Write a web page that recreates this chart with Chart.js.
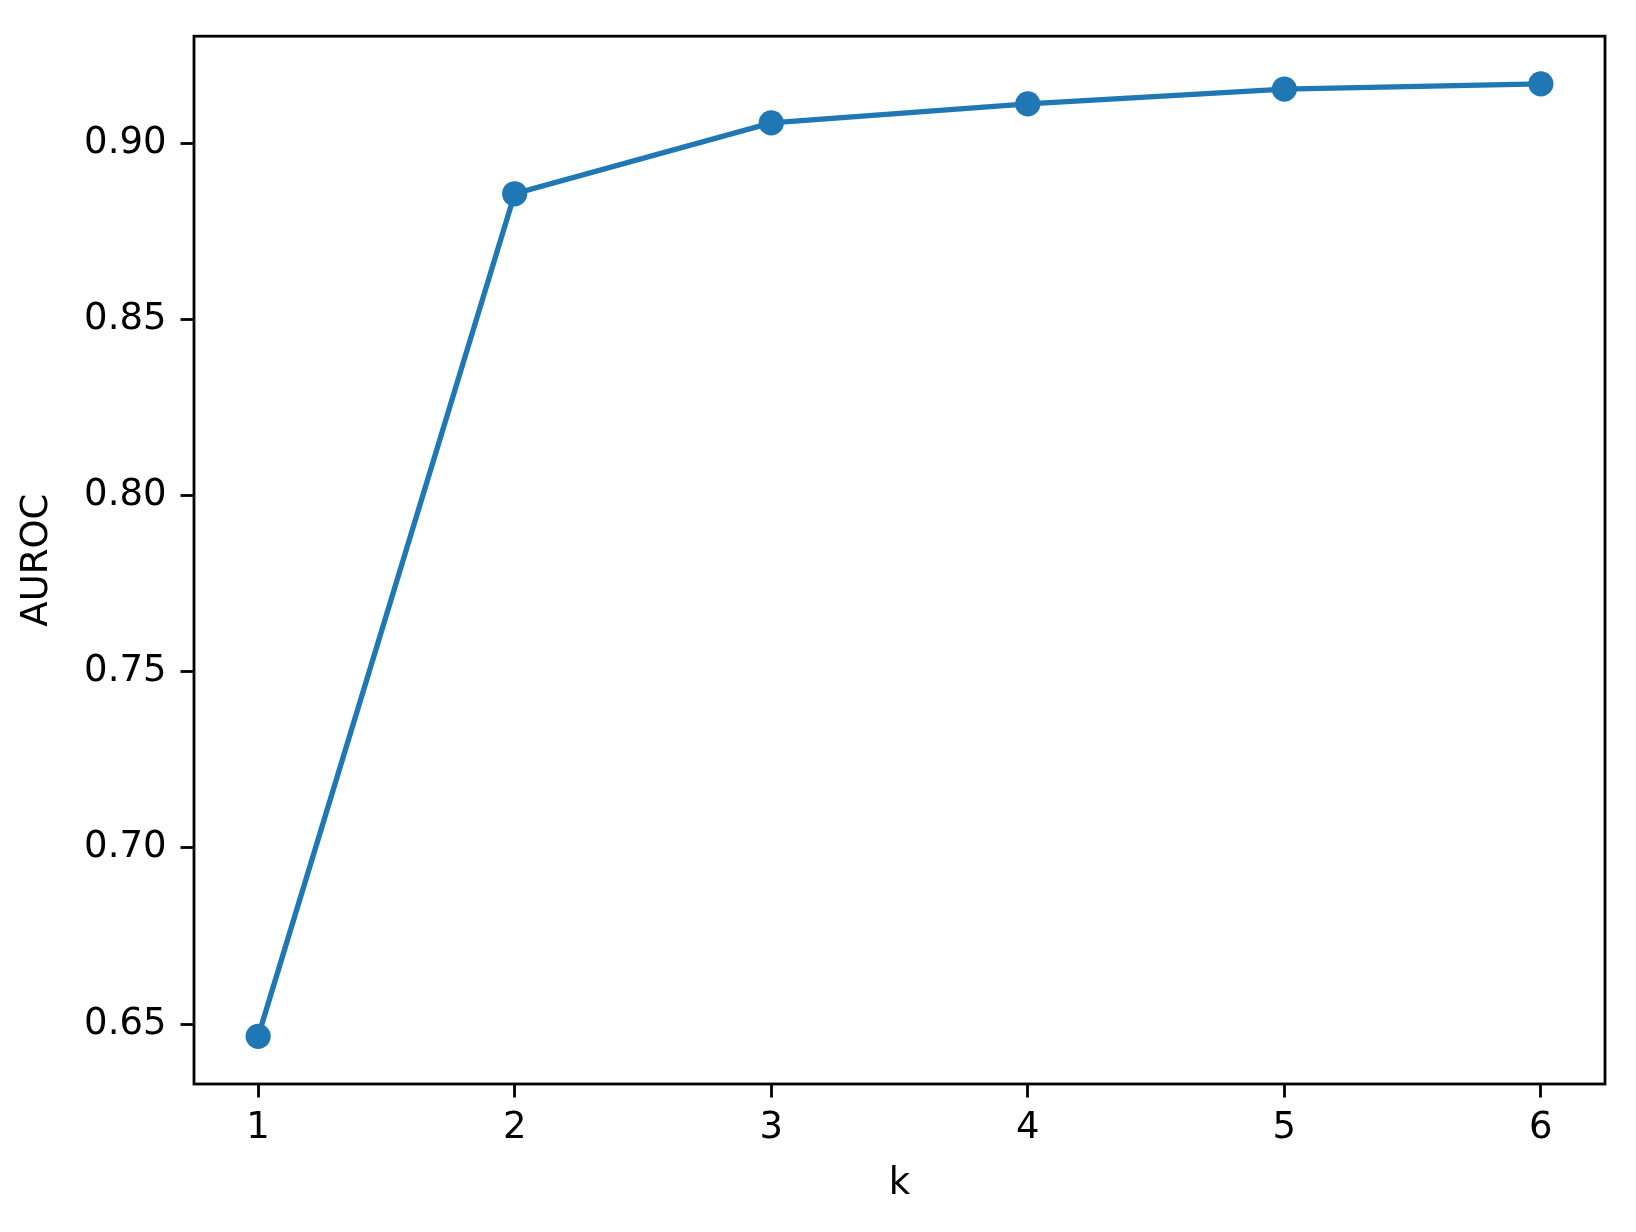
<!DOCTYPE html>
<html><head><meta charset="utf-8">
<script src="https://cdn.jsdelivr.net/npm/chart.js@4"></script>
<style>html,body{margin:0;padding:0;background:#fff}#wrap{width:1636px;height:1232px}</style>
</head><body><div id="wrap"><canvas id="c" width="1636" height="1232"></canvas></div>
<script>
const kValues = [1, 2, 3, 4, 5, 6];
const aurocValues = [0.6465, 0.8856, 0.9057, 0.9111, 0.9153, 0.9168];
const yTickValues = [0.65, 0.70, 0.75, 0.80, 0.85, 0.90];
const xTickValues = [1, 2, 3, 4, 5, 6];
const xAxisTitle = 'k';
const yAxisTitle = 'AUROC';

const FONT = 'DejaVu Sans';
const FS = 37;
const LINE_COLOR = '#1f77b4';

// matplotlib-like 5% autoscale margins
const xr = Math.max(...kValues) - Math.min(...kValues);
const yr = Math.max(...aurocValues) - Math.min(...aurocValues);
const xMin = Math.min(...kValues) - 0.05 * xr, xMax = Math.max(...kValues) + 0.05 * xr;
const yMin = Math.min(...aurocValues) - 0.05 * yr, yMax = Math.max(...aurocValues) + 0.05 * yr;

const framePlugin = {
  id: 'frame',
  afterDraw(chart) {
    const {ctx, chartArea: a} = chart;
    ctx.save();
    ctx.strokeStyle = '#000';
    ctx.lineWidth = 2.8;
    ctx.strokeRect(a.left, a.top, a.right - a.left, a.bottom - a.top);
    ctx.restore();
  }
};

new Chart(document.getElementById('c'), {
  type: 'line',
  data: {
    datasets: [{
      data: kValues.map((k, i) => ({x: k, y: aurocValues[i]})),
      borderColor: LINE_COLOR,
      backgroundColor: LINE_COLOR,
      borderWidth: 5.3,
      pointRadius: 12.6,
      pointBorderWidth: 0,
      pointBackgroundColor: LINE_COLOR,
      pointHoverRadius: 12.6,
      tension: 0,
      fill: false
    }]
  },
  options: {
    responsive: false,
    devicePixelRatio: 1,
    animation: false,
    events: [],
    layout: {padding: {left: 0, top: 32, right: 31, bottom: 0}},
    plugins: {legend: {display: false}, tooltip: {enabled: false}},
    scales: {
      x: {
        type: 'linear',
        min: xMin, max: xMax,
        afterFit(s) { s.height = 148; },
        afterBuildTicks(s) { s.ticks = xTickValues.map(v => ({value: v})); },
        border: {display: false},
        grid: {drawOnChartArea: false, drawTicks: true, tickLength: 13.5, tickWidth: 2.8, tickColor: '#000'},
        ticks: {color: '#000', font: {family: FONT, size: FS}, padding: 9, maxRotation: 0, autoSkip: false,
                callback: v => String(v)},
        title: {display: true, text: xAxisTitle, color: '#000', font: {family: FONT, size: FS}, padding: {top: 0, bottom: 25}}
      },
      y: {
        type: 'linear',
        min: yMin, max: yMax,
        afterFit(s) { s.width = 194; },
        afterBuildTicks(s) { s.ticks = yTickValues.map(v => ({value: v})); },
        border: {display: false},
        grid: {drawOnChartArea: false, drawTicks: true, tickLength: 13.5, tickWidth: 2.8, tickColor: '#000'},
        ticks: {color: '#000', font: {family: FONT, size: FS}, padding: 14, autoSkip: false,
                callback: v => v.toFixed(2)},
        title: {display: true, text: yAxisTitle, color: '#000', font: {family: FONT, size: FS}, padding: {top: 15, bottom: 0}}
      }
    }
  },
  plugins: [framePlugin]
});
</script>
</body></html>
